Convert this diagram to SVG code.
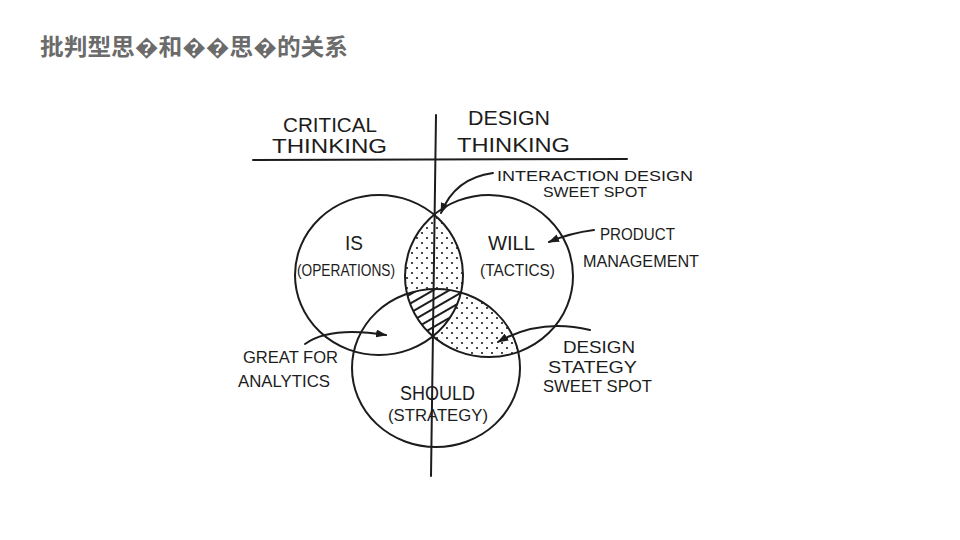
<svg xmlns="http://www.w3.org/2000/svg" width="960" height="540" viewBox="0 0 960 540">
<style>
.ln{fill:none;stroke:#1c1c1c;stroke-width:2;stroke-linecap:round}
.t{font-family:"Liberation Sans","DejaVu Sans",sans-serif;font-size:17px;fill:#1c1c1c}
.h{font-size:20px}
.s{font-size:14px}
.title{font-family:"Noto Sans CJK SC","Noto Sans",sans-serif;font-size:23px;font-weight:bold;fill:#6b6b6b}
</style>
<defs>
<clipPath id="cIS"><ellipse cx="379" cy="275" rx="84" ry="80"/></clipPath>
<clipPath id="cWILL"><ellipse cx="489" cy="276" rx="84" ry="81"/></clipPath>
<clipPath id="cSH"><ellipse cx="436" cy="368" rx="84" ry="79"/></clipPath>
<pattern id="dots" width="10" height="10" patternUnits="userSpaceOnUse"><circle cx="2" cy="3" r="1.1" fill="#1c1c1c"/><circle cx="7" cy="8" r="1.1" fill="#1c1c1c"/></pattern>
<pattern id="hatch" width="8" height="8" patternUnits="userSpaceOnUse" patternTransform="rotate(-30)"><rect width="8" height="8" fill="#fff"/><line x1="0" y1="4" x2="8" y2="4" stroke="#1c1c1c" stroke-width="2"/></pattern>
<marker id="ah" markerWidth="11" markerHeight="8" refX="10" refY="4" orient="auto" markerUnits="userSpaceOnUse"><path d="M0,0 L11,4 L0,8 Z" fill="#1c1c1c"/></marker>
</defs>
<rect width="960" height="540" fill="#fff"/>
<text class="title" x="40" y="55" textLength="308" lengthAdjust="spacingAndGlyphs">批判型思�和��思�的关系</text>

<g id="regions">
<g clip-path="url(#cIS)"><ellipse cx="489" cy="276" rx="84" ry="81" fill="url(#dots)"/></g>
<g clip-path="url(#cWILL)"><ellipse cx="436" cy="368" rx="84" ry="79" fill="url(#dots)"/></g>
<g clip-path="url(#cIS)"><g clip-path="url(#cWILL)"><ellipse cx="436" cy="368" rx="84" ry="79" fill="url(#hatch)"/></g></g>
</g>

<g id="axes">
<path class="ln" d="M436,115 L431,476"/>
<path class="ln" d="M253,160 L627,159"/>
<text class="t h" x="283" y="132" textLength="94" lengthAdjust="spacingAndGlyphs">CRITICAL</text>
<text class="t h" x="272" y="153" textLength="115" lengthAdjust="spacingAndGlyphs">THINKING</text>
<text class="t h" x="468" y="125" textLength="82" lengthAdjust="spacingAndGlyphs">DESIGN</text>
<text class="t h" x="457" y="152" textLength="113" lengthAdjust="spacingAndGlyphs">THINKING</text>
</g>

<g id="node-is">
<ellipse class="ln" cx="379" cy="275" rx="84" ry="80"/>
<text class="t h" x="345" y="250" textLength="18" lengthAdjust="spacingAndGlyphs">IS</text>
<text class="t" x="297" y="276" textLength="98" lengthAdjust="spacingAndGlyphs">(OPERATIONS)</text>
</g>
<g id="node-will">
<ellipse class="ln" cx="489" cy="276" rx="84" ry="81"/>
<text class="t h" x="488" y="250" textLength="47" lengthAdjust="spacingAndGlyphs">WILL</text>
<text class="t" x="480" y="276" textLength="75" lengthAdjust="spacingAndGlyphs">(TACTICS)</text>
</g>
<g id="node-should">
<ellipse class="ln" cx="436" cy="368" rx="84" ry="79"/>
<text class="t h" x="400" y="400" textLength="75" lengthAdjust="spacingAndGlyphs">SHOULD</text>
<text class="t" x="388" y="421" textLength="100" lengthAdjust="spacingAndGlyphs">(STRATEGY)</text>
</g>

<g id="label-interaction">
<text class="t s" x="497" y="181" textLength="196" lengthAdjust="spacingAndGlyphs">INTERACTION DESIGN</text>
<text class="t s" x="543" y="197" textLength="104" lengthAdjust="spacingAndGlyphs">SWEET SPOT</text>
</g>
<g id="label-product">
<text class="t" x="600" y="240" textLength="75" lengthAdjust="spacingAndGlyphs">PRODUCT</text>
<text class="t" x="583" y="267" textLength="116" lengthAdjust="spacingAndGlyphs">MANAGEMENT</text>
</g>
<g id="label-analytics">
<text class="t" x="243" y="363" textLength="95" lengthAdjust="spacingAndGlyphs">GREAT FOR</text>
<text class="t" x="238" y="387" textLength="92" lengthAdjust="spacingAndGlyphs">ANALYTICS</text>
</g>
<g id="label-strategy">
<text class="t" x="563" y="353" textLength="72" lengthAdjust="spacingAndGlyphs">DESIGN</text>
<text class="t" x="548" y="373" textLength="89" lengthAdjust="spacingAndGlyphs">STATEGY</text>
<text class="t" x="543" y="392" textLength="109" lengthAdjust="spacingAndGlyphs">SWEET SPOT</text>
</g>

<g id="connectors">
<path class="ln" d="M493,173 Q455,178 441,213" marker-end="url(#ah)"/>
<path class="ln" d="M594,230 Q570,233 549,242" marker-end="url(#ah)"/>
<path class="ln" d="M305,344 Q330,326 386,335" marker-end="url(#ah)"/>
<path class="ln" d="M590,330 Q540,318 498,342" marker-end="url(#ah)"/>
</g>
</svg>
